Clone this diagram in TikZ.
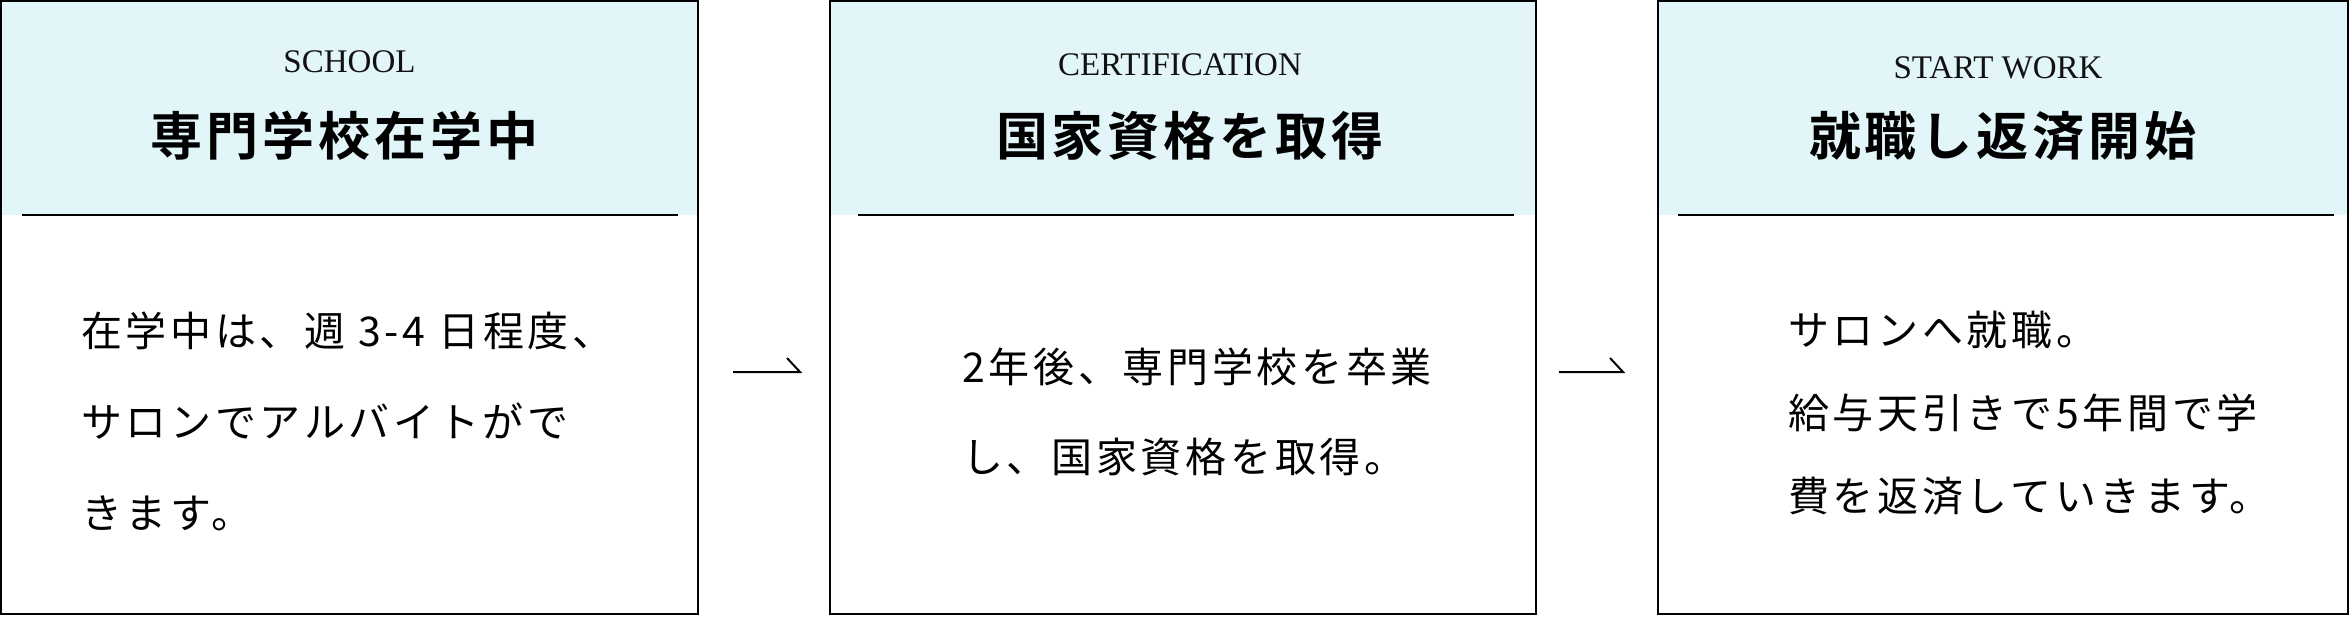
\documentclass[tikz,border=0pt]{standalone}
\usepackage{fontspec}
\setmainfont{Liberation Serif}
\newfontfamily\titlefont[LetterSpace=7.7]{Noto Sans CJK JP Bold}
\newfontfamily\bodyfont[LetterSpace=9]{Noto Sans CJK JP}
\definecolor{bandcyan}{HTML}{E2F6F9}
\definecolor{inkblack}{HTML}{111111}
\begin{document}
\begin{tikzpicture}[x=1pt,y=-1pt,
  stepbox/.style={draw=black, line width=2pt, inner sep=0pt, outer sep=0pt, anchor=north west, minimum height=613pt},
  band/.style={fill=bandcyan},
  rulerline/.style={draw=black, line width=2pt},
  headlabel/.style={font=\fontsize{33}{40}\selectfont, text=inkblack, anchor=base, inner sep=0pt},
  titletext/.style={font=\titlefont\fontsize{52}{60}\selectfont, text=black, inner sep=0pt},
  bodytext/.style={text=black, align=left, anchor=west, inner sep=0pt},
  flowline/.style={draw=black, line width=2pt, line join=miter}]
\useasboundingbox (0,0) rectangle (2350,616);
% header bands
\path[band] (1,1) rectangle (698,215);
\path[band] (830,1) rectangle (1536,215);
\path[band] (1658,1) rectangle (2348,215);
% boxes
\node[stepbox, minimum width=697pt] (box1) at (1,1) {};
\node[stepbox, minimum width=706pt] (box2) at (830,1) {};
\node[stepbox, minimum width=690pt] (box3) at (1658,1) {};
% separators
\draw[rulerline] (22,215) -- (678,215);
\draw[rulerline] (858,215) -- (1514,215);
\draw[rulerline] (1678,215) -- (2334,215);
% header labels
\node[headlabel] (lab1) at (349.5,72) {SCHOOL};
\node[headlabel] (lab2) at (1180,75) {CERTIFICATION};
\node[headlabel] (lab3) at (1998,78) {START WORK};
% titles
\node[titletext] (tit1) at (345,136) {専門学校在学中};
\node[titletext] (tit2) at (1190,136) {国家資格を取得};
\node[titletext] (tit3) at (2003,136) {就職し返済開始};
% body texts
\node[bodytext, font=\bodyfont\fontsize{41}{91}\selectfont] (txt1) at (81,421)
  {在学中は、週 3-4 日程度、\\サロンでアルバイトがで\\きます。};
\node[bodytext, font=\bodyfont\fontsize{41}{90}\selectfont] (txt2) at (962,412)
  {2年後、専門学校を卒業\\し、国家資格を取得。};
\node[bodytext, font=\bodyfont\fontsize{41}{83}\selectfont] (txt3) at (1788,413)
  {サロンへ就職。\\給与天引きで5年間で学\\費を返済していきます。};
% connectors
\coordinate (arrowrow) at (0,372);
\draw[flowline] ([xshift=35pt]box1.east |- arrowrow) -- ([xshift=-30pt]box2.west |- arrowrow) -- ++(-13,-14);
\draw[flowline] ([xshift=23pt]box2.east |- arrowrow) -- ([xshift=-35pt]box3.west |- arrowrow) -- ++(-13,-14);
\end{tikzpicture}
\end{document}
